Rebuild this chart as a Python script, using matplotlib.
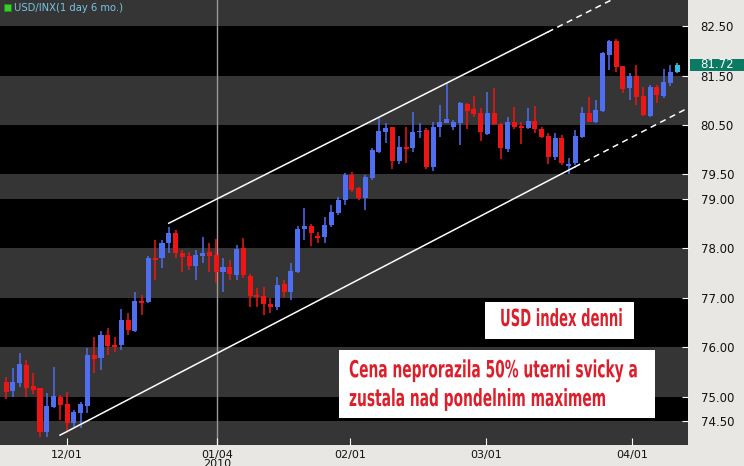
import numpy as np
import matplotlib
matplotlib.use('Agg')
import matplotlib.pyplot as plt
from matplotlib.patches import Rectangle
from matplotlib.patheffects import AbstractPathEffect
from matplotlib.transforms import Affine2D, blended_transform_factory

# daily candles, Nov 2009 - Apr 2010
opens = [75.29, 75.11, 75.27, 75.64, 75.21, 75.17, 74.28, 74.79, 74.99, 74.85,
         74.46, 74.67, 74.81, 75.84, 75.78, 76.24, 76.04, 76.04, 76.55, 76.33,
         76.93, 76.91, 77.80, 77.80, 78.11, 78.31, 77.90, 77.84, 77.64, 77.84,
         77.92, 77.86, 77.52, 77.62, 77.46, 78.01, 77.44, 77.05, 77.03, 76.87,
         76.81, 77.28, 77.11, 77.52, 78.39, 78.45, 78.25, 78.23, 78.47, 78.71,
         78.98, 79.48, 79.22, 79.02, 79.42, 79.95, 80.35, 80.46, 79.77, 80.05,
         80.03, 80.35, 80.39, 79.65, 80.46, 80.54, 80.46, 80.54, 80.92, 80.82,
         80.74, 80.31, 80.74, 80.52, 80.01, 80.56, 80.46, 80.44, 80.58, 80.41,
         80.27, 79.85, 80.23, 79.67, 79.73, 80.25, 80.74, 80.56, 80.78, 81.91,
         82.20, 81.69, 81.24, 81.49, 81.08, 80.68, 81.26, 81.08, 81.35, 81.57]
highs = [75.39, 75.58, 75.88, 75.74, 75.48, 75.17, 75.07, 75.60, 75.03, 75.09,
         74.73, 74.89, 75.98, 76.20, 76.33, 76.39, 76.20, 76.77, 76.69, 77.11,
         77.05, 77.84, 78.17, 78.17, 78.43, 78.37, 77.97, 77.92, 77.97, 78.23,
         78.11, 78.19, 77.80, 77.76, 78.07, 78.21, 77.48, 77.20, 77.22, 76.99,
         77.42, 77.36, 77.70, 78.45, 78.82, 78.49, 78.33, 78.63, 78.88, 79.04,
         79.52, 79.54, 79.24, 79.48, 80.03, 80.66, 80.54, 80.46, 80.27, 80.46,
         80.76, 80.54, 80.44, 80.56, 80.90, 81.35, 80.60, 80.96, 80.94, 81.08,
         80.84, 81.16, 81.24, 80.54, 80.66, 80.86, 80.56, 80.84, 80.88, 80.46,
         80.33, 80.33, 80.29, 79.83, 80.39, 80.86, 81.06, 81.00, 81.97, 82.22,
         82.24, 81.69, 81.55, 81.71, 81.26, 81.31, 81.31, 81.63, 81.71, 81.75]
lows = [74.95, 74.99, 75.19, 74.99, 75.05, 74.18, 74.18, 74.77, 74.52, 74.26,
        74.38, 74.36, 74.67, 75.48, 75.54, 75.84, 75.90, 75.94, 76.24, 76.31,
        76.65, 76.89, 77.36, 77.60, 77.90, 77.80, 77.52, 77.56, 77.36, 77.70,
        77.52, 77.30, 77.11, 77.36, 77.36, 77.40, 76.81, 76.81, 76.65, 76.69,
        76.75, 77.01, 76.95, 77.50, 78.17, 78.05, 78.11, 78.11, 78.43, 78.67,
        78.88, 79.14, 78.98, 78.78, 79.38, 79.93, 80.13, 79.60, 79.71, 79.73,
        79.95, 80.23, 79.60, 79.56, 80.25, 80.54, 80.39, 80.09, 80.41, 80.66,
        80.17, 80.29, 80.50, 79.81, 79.95, 80.41, 80.11, 80.41, 80.33, 80.23,
        79.71, 79.79, 79.69, 79.50, 79.69, 80.23, 80.56, 80.54, 80.76, 81.61,
        81.57, 81.14, 81.00, 80.90, 80.68, 80.66, 80.94, 81.04, 81.28, 81.55]
closes = [75.09, 75.29, 75.66, 75.17, 75.13, 74.28, 74.81, 75.01, 74.83, 74.46,
          74.69, 74.85, 75.84, 75.76, 76.24, 76.02, 76.00, 76.55, 76.35, 76.93,
          76.89, 77.80, 77.76, 78.11, 78.31, 77.90, 77.82, 77.64, 77.86, 77.90,
          77.84, 77.52, 77.62, 77.48, 77.99, 77.46, 77.03, 77.01, 76.87, 76.81,
          77.26, 77.11, 77.54, 78.39, 78.45, 78.31, 78.21, 78.47, 78.74, 78.98,
          79.48, 79.18, 79.02, 79.44, 79.99, 80.37, 80.44, 79.77, 80.05, 80.01,
          80.35, 80.37, 79.65, 80.46, 80.56, 80.62, 80.56, 80.94, 80.78, 80.72,
          80.35, 80.74, 80.52, 80.03, 80.56, 80.46, 80.44, 80.58, 80.41, 80.25,
          79.85, 80.23, 79.73, 79.69, 80.27, 80.74, 80.56, 80.80, 81.95, 82.20,
          81.67, 81.22, 81.49, 81.06, 80.70, 81.26, 81.10, 81.37, 81.57, 81.72]

last_price = 81.72

price_ticks = [74.5, 75.0, 76.0, 77.0, 78.0, 79.0, 79.5, 80.5, 81.5, 82.5]
date_tick_pos = [9.0, 31.1, 50.7, 70.8, 92.3]
date_labels = ['12/01', '01/04\n2010', '02/01', '03/01', '04/01']
year_break = 31.1

# channel anchor points (candle index, price)
upper_x = [24.0, 79.9]
upper_y = [78.51, 82.38]
lower_x = [7.96, 83.9]
lower_y = [74.22, 79.65]

note_title = 'USD index denni'
note_text = 'Cena neprorazila 50% uterni svicky a\nzustala nad pondelnim maximem'

xlim = (-0.9, 100.6)
ylim = (74.02, 83.03)

BLUE = '#4f6ef0'
RED = '#ee1515'
CYAN = '#35bde8'
GRAY = '#353535'
NOTE_RED = '#dd1f2b'

W, H = 744, 466
AX_W, AX_H = 688, 445


class Narrow(AbstractPathEffect):
    # squeeze glyphs horizontally (the original uses a condensed font)
    def __init__(self, sx):
        super().__init__()
        self.sx = sx

    def draw_path(self, renderer, gc, tpath, affine, rgbFace=None):
        renderer.draw_path(gc, tpath, Affine2D().scale(self.sx, 1) + affine, rgbFace)


fig = plt.figure(figsize=(W / 100, H / 100), dpi=100, facecolor='#e9e7e3')
ax = fig.add_axes([0, (H - AX_H) / H, AX_W / W, AX_H / H])
ax.set_facecolor('black')
ax.set_xlim(*xlim)
ax.set_ylim(*ylim)

# alternating bands between the price ticks
bounds = [ylim[0]] + price_ticks + [ylim[1]]
for k in range(len(bounds) - 1):
    ax.axhspan(bounds[k], bounds[k + 1], color=GRAY if k % 2 == 0 else 'black', lw=0, zorder=0)

ax.axvline(year_break, color='#9a9a9a', lw=1, zorder=1)

x = np.arange(len(opens))
o = np.array(opens)
c = np.array(closes)
cols = [BLUE if c[i] >= o[i] else RED for i in range(len(o))]
cols[-1] = CYAN
ax.vlines(x, lows, highs, colors=cols, lw=1.1, zorder=3)
body = np.maximum(np.abs(c - o), 0.035)
ax.bar(x, body, bottom=np.minimum(o, c), width=0.74, color=cols, lw=0, zorder=4)

# channel lines, dashed past the last anchor
for xs, ys in [(upper_x, upper_y), (lower_x, lower_y)]:
    slope = (ys[1] - ys[0]) / (xs[1] - xs[0])
    ax.plot(xs, ys, color='white', lw=1.1, zorder=5)
    ax.plot([xs[1], xlim[1]], [ys[1], ys[1] + slope * (xlim[1] - xs[1])],
            color='white', lw=1.1, ls=(0, (4, 3)), zorder=5)

for s in ax.spines.values():
    s.set_visible(False)
ax.yaxis.tick_right()
ax.set_yticks(price_ticks)
ax.set_yticklabels(['%.2f' % v for v in price_ticks])
ax.set_xticks(date_tick_pos)
ax.set_xticklabels(date_labels, linespacing=0.95)
ax.tick_params(axis='y', direction='in', color='white', length=4, pad=9,
               labelsize=8.5, labelcolor='#111111')
ax.tick_params(axis='x', direction='in', color='white', length=5, pad=3.5,
               labelsize=8, labelcolor='#111111')

# last price tag
tr = blended_transform_factory(fig.transFigure, ax.transData)
fig.add_artist(Rectangle((690 / W, last_price - 0.125), 54 / W, 0.25,
                         transform=tr, fc='#0b7a63', ec='none', clip_on=False))
fig.text(700 / W, last_price, '%.2f' % last_price, transform=tr, color='white',
         fontsize=8.5, va='center', ha='left')

# header
fig.add_artist(Rectangle((4 / W, 1 - 11 / H), 7 / W, 7 / H, transform=fig.transFigure,
                         fc='#3ccc2c', ec='#1f8a1a', lw=0.6))
fig.text(14 / W, 1 - 8 / H, 'USD/INX(1 day 6 mo.)', color='#78c4e6', fontsize=7.2, va='center')

# annotation boxes (pixel boxes of the original, converted to axes fraction)
def px_box(x0, y0, x1, y1):
    ax.add_patch(Rectangle((x0 / AX_W, 1 - y1 / AX_H), (x1 - x0) / AX_W, (y1 - y0) / AX_H,
                           transform=ax.transAxes, fc='white', ec='none', zorder=9))

px_box(485, 302, 634, 339)
px_box(339, 350, 655, 418)

# baseline of the last line in each note
t1 = ax.text(500 / AX_W, 1 - 326 / AX_H, note_title, transform=ax.transAxes,
             fontweight='bold', fontsize=17, color=NOTE_RED, ha='left', va='baseline', zorder=10)
t2 = ax.text(349 / AX_W, 1 - 406 / AX_H, note_text, transform=ax.transAxes,
             fontweight='bold', fontsize=17, color=NOTE_RED, ha='left', va='baseline',
             linespacing=1.25, zorder=10)

renderer = fig.canvas.get_renderer()
for t, target in [(t1, 123), (t2, 289)]:
    w = t.get_window_extent(renderer).width
    t.set_path_effects([Narrow(target / w)])

fig.savefig('out.png', dpi=100, facecolor=fig.get_facecolor())
